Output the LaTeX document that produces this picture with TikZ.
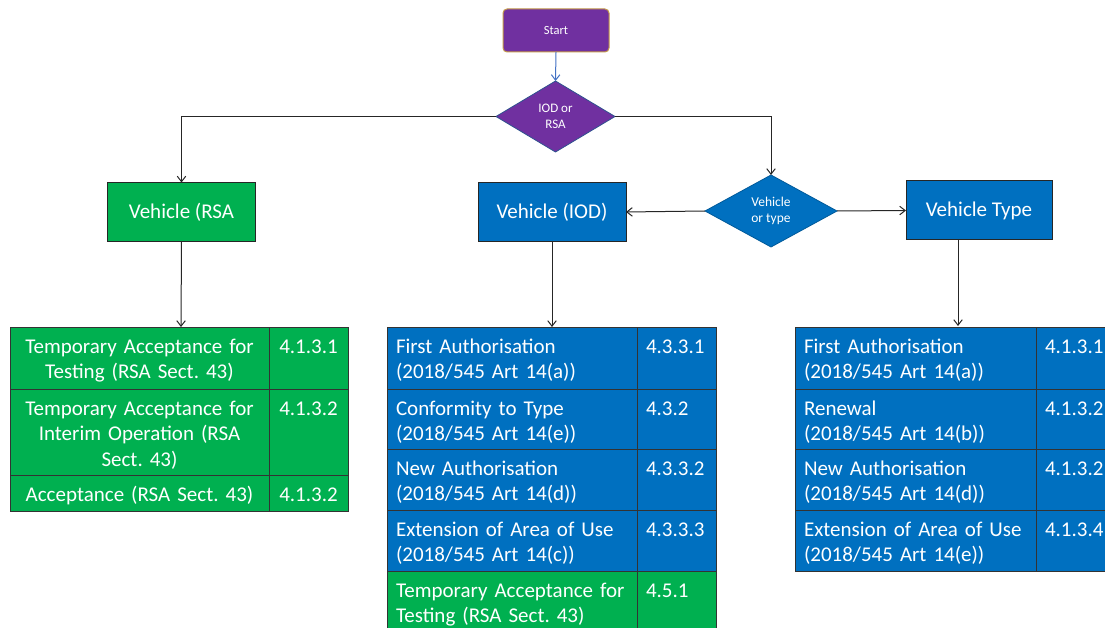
\documentclass[tikz,border=0pt]{standalone}
\usepackage{fontspec}
\setmainfont{Carlito}
\usetikzlibrary{arrows.meta,shapes.geometric}
\definecolor{vpurple}{HTML}{7030A0}
\definecolor{vgreen}{HTML}{00B050}
\definecolor{vblue}{HTML}{0070C0}
\definecolor{vgold}{HTML}{C49A4A}
\definecolor{vedge}{HTML}{2F528F}
\definecolor{vlink}{HTML}{4472C4}
\frenchspacing
\begin{document}
\begin{tikzpicture}[x=1pt,y=-1pt,
  every node/.style={inner sep=0pt,outer sep=0pt},
  startbox/.style={rounded corners=4pt,draw=vgold,line width=1pt,fill=vpurple,text=white,
    font=\fontsize{12.5}{15}\selectfont,minimum width=106pt,minimum height=43pt},
  decision/.style={diamond,fill=#1,draw=vedge,line width=0.8pt,text=white,align=center},
  vehbox/.style={draw=black!85,line width=1pt,fill=#1,text=white,
    font=\fontsize{21}{25}\selectfont,minimum height=59pt},
  cell/.style={draw=black!80,line width=1pt,fill=#1},
  celltxt/.style={text=white,font=\fontsize{21}{25.5}\selectfont,anchor=base west,align=left},
  ctrtxt/.style={text=white,font=\fontsize{21}{25.5}\selectfont,anchor=base,align=center},
  flow/.style={draw=black!85,line width=1pt,-{Straight Barb[length=5.5pt,width=8.5pt]}},
]
\useasboundingbox (0,0) rectangle (1105,628);
\clip (0,0) rectangle (1105,628);

% ---- top of the flow ----
\node[startbox] (start) at (556,30.5) {Start};
\node[decision=vpurple,minimum width=119pt,minimum height=71pt,
      font=\fontsize{13}{15.7}\selectfont] (d1) at (555.5,116.5) {IOD or\\RSA};
\node[decision=vblue,draw=vblue!80!black,minimum width=132pt,minimum height=72pt,
      font=\fontsize{13.5}{16.7}\selectfont] (d2) at (771,211) {Vehicle\\or type};

% ---- vehicle boxes ----
\node[vehbox=vgreen,minimum width=148pt] (rsa) at (181.5,212) {Vehicle (RSA};
\node[vehbox=vblue,minimum width=148pt] (iod) at (552,212) {Vehicle (IOD)};
\node[vehbox=vblue,minimum width=146pt] (vt) at (979,210.5) {Vehicle Type};

% ---- left table (RSA) ----
\draw[cell=vgreen] (10,327) rectangle (269,389);
\draw[cell=vgreen] (269,327) rectangle (348,389);
\draw[cell=vgreen] (10,389) rectangle (269,475);
\draw[cell=vgreen] (269,389) rectangle (348,475);
\draw[cell=vgreen] (10,475) rectangle (269,511);
\draw[cell=vgreen] (269,475) rectangle (348,511);
\node[ctrtxt,text width=255pt] (l1) at (139.5,353) {Temporary Acceptance for\\Testing (RSA Sect. 43)};
\node[ctrtxt] (l1n) at (308.5,353) {4.1.3.1};
\node[ctrtxt,text width=255pt] (l2) at (139.5,415) {Temporary Acceptance for\\Interim Operation (RSA\\Sect. 43)};
\node[ctrtxt] (l2n) at (308.5,415) {4.1.3.2};
\node[ctrtxt,text width=255pt] (l3) at (139.5,501) {Acceptance (RSA Sect. 43)};
\node[ctrtxt] (l3n) at (308.5,501) {4.1.3.2};

% ---- middle table (IOD) ----
\foreach \t/\b/\c in {327/389/vblue,389/449/vblue,449/510/vblue,510/571/vblue,571/660/vgreen}{
  \draw[cell=\c] (387,\t) rectangle (637,\b);
  \draw[cell=\c] (637,\t) rectangle (716,\b);
}
\node[celltxt,text width=235pt] (m1) at (396,353) {First Authorisation\\(2018/545 Art 14(a))};
\node[celltxt] (m1n) at (646,353) {4.3.3.1};
\node[celltxt,text width=235pt] (m2) at (396,415) {Conformity to Type\\(2018/545 Art 14(e))};
\node[celltxt] (m2n) at (646,415) {4.3.2};
\node[celltxt,text width=235pt] (m3) at (396,475) {New Authorisation\\(2018/545 Art 14(d))};
\node[celltxt] (m3n) at (646,475) {4.3.3.2};
\node[celltxt,text width=235pt] (m4) at (396,536) {Extension of Area of Use\\(2018/545 Art 14(c))};
\node[celltxt] (m4n) at (646,536) {4.3.3.3};
\node[celltxt,text width=235pt] (m5) at (396,597) {Temporary Acceptance for\\Testing (RSA Sect. 43)};
\node[celltxt] (m5n) at (646,597) {4.5.1};

% ---- right table (vehicle type) ----
\foreach \t/\b in {327/389,389/449,449/510,510/571}{
  \draw[cell=vblue] (795,\t) rectangle (1036,\b);
  \draw[cell=vblue] (1036,\t) rectangle (1130,\b);
}
\node[celltxt,text width=225pt] (r1) at (804,353) {First Authorisation\\(2018/545 Art 14(a))};
\node[celltxt] (r1n) at (1045,353) {4.1.3.1};
\node[celltxt,text width=225pt] (r2) at (804,415) {Renewal\\(2018/545 Art 14(b))};
\node[celltxt] (r2n) at (1045,415) {4.1.3.2};
\node[celltxt,text width=225pt] (r3) at (804,475) {New Authorisation\\(2018/545 Art 14(d))};
\node[celltxt] (r3n) at (1045,475) {4.1.3.2};
\node[celltxt,text width=225pt] (r4) at (804,536) {Extension of Area of Use\\(2018/545 Art 14(e))};
\node[celltxt] (r4n) at (1045,536) {4.1.3.4};

% ---- table entry points ----
\coordinate (ltop) at (181,327);
\coordinate (mtop) at (552,327);
\coordinate (rtop) at (958,326);

% ---- connectors ----
\draw[flow,draw=vlink] (start.south) -- (d1.north);
\draw[flow] (d1.west) -| (rsa.north);
\draw[flow] (d1.east) -| (d2.north);
\draw[flow] (d2.west) -- (iod.east);
\draw[flow] (d2.east) -- (vt.west);
\draw[flow] (rsa.south) -- (ltop);
\draw[flow] (iod.south) -- (mtop);
\draw[flow] (vt.south -| rtop) -- (rtop);
\end{tikzpicture}
\end{document}
